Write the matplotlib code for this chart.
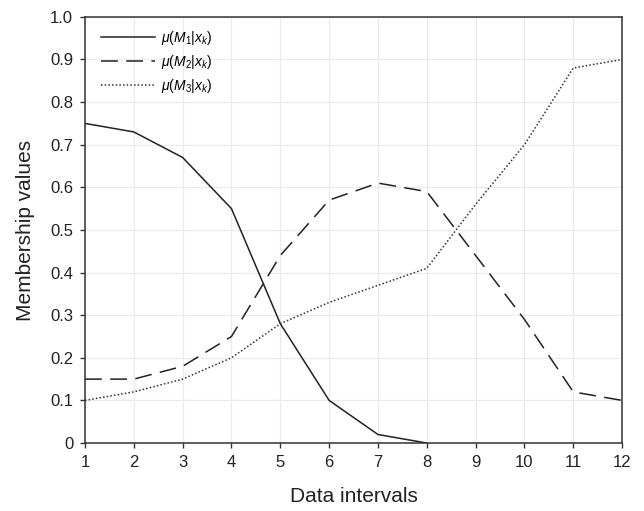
import numpy as np
import matplotlib.pyplot as plt
from matplotlib.ticker import FuncFormatter

plt.rcParams['font.family'] = ['Liberation Sans', 'DejaVu Sans']
plt.rcParams['mathtext.fontset'] = 'custom'
plt.rcParams['mathtext.rm'] = 'Liberation Sans'
plt.rcParams['mathtext.it'] = 'Liberation Sans:italic'

intervals = np.arange(1, 13)
m1 = [0.75, 0.73, 0.67, 0.55, 0.28, 0.10, 0.02, 0.00]
m2 = [0.15, 0.15, 0.18, 0.25, 0.44, 0.57, 0.61, 0.59, 0.44, 0.29, 0.12, 0.10]
m3 = [0.10, 0.12, 0.15, 0.20, 0.28, 0.33, 0.37, 0.41, 0.56, 0.70, 0.88, 0.90]

fg = '#222222'

fig = plt.figure(figsize=(6.44, 5.11), dpi=100)
ax = fig.add_axes([0.132, 0.133, 0.834, 0.834])

ax.plot(intervals[:len(m1)], m1, color=fg, lw=1.1, ls='-', label=r'$\mu(M_1|x_k)$')
ax.plot(intervals, m2, color=fg, lw=1.1, ls=(0, (11, 5.5)), label=r'$\mu(M_2|x_k)$')
ax.plot(intervals, m3, color='#333333', lw=1.1, ls=(0, (1, 1.4)), label=r'$\mu(M_3|x_k)$')

ax.set_xlim(1, 12)
ax.set_ylim(0, 1.0)
ax.set_xticks(intervals)
ax.set_yticks(np.arange(0, 1.01, 0.1))
ax.yaxis.set_major_formatter(FuncFormatter(lambda v, p: '0' if abs(v) < 1e-9 else f'{v:.1f}'))
ax.grid(True, color='#ebebeb', lw=0.9)
ax.set_axisbelow(True)

for s in ax.spines.values():
    s.set_color('#333333')
    s.set_linewidth(1.1)
ax.tick_params(axis='both', direction='out', length=3.5, width=1, color='#333333',
               labelsize=12, labelcolor=fg, pad=5)

ax.set_xlabel('Data intervals', fontsize=15, color=fg, labelpad=12)
ax.set_ylabel('Membership values', fontsize=15, color=fg, labelpad=11)

ax.legend(loc='upper left', frameon=False, fontsize=10, handlelength=3.9,
          handletextpad=0.4, labelspacing=0.45, borderaxespad=0.0,
          bbox_to_anchor=(0.02, 0.985))

fig.savefig('out.png', dpi=100)
